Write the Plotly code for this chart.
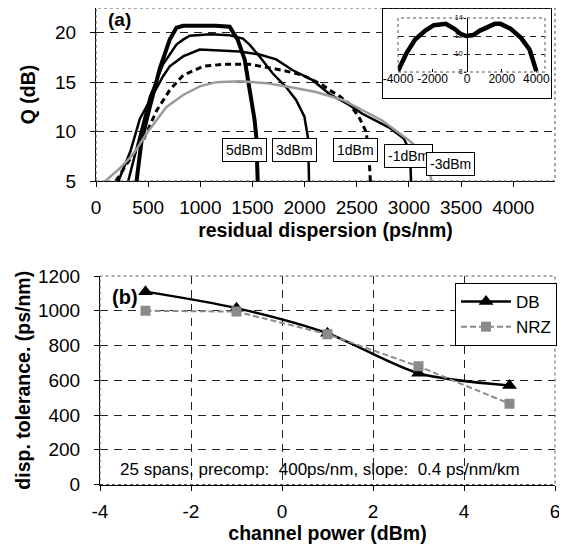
import plotly.graph_objects as go

# the page body has an 8px margin, so the figure is drawn 8px in from the corner
OFF = 8
W, H = 567 - OFF, 548 - OFF
FONT = "Liberation Sans, Arial, sans-serif"

# ---- (a) Q versus residual dispersion, one curve per channel power ----
disp_5dbm = [389, 437, 516, 612, 707, 771, 835, 1000, 1150, 1281, 1358, 1425,
             1472, 1520, 1536, 1546, 1550]
q_5dbm = [5, 9.1, 12.5, 16.4, 19.3, 20.5, 20.7, 20.75, 20.7, 20.6, 19.3, 17.3,
          14.55, 11.2, 9.5, 6.4, 5]

disp_3dbm = [309, 370, 421, 516, 643, 707, 771, 835, 899, 1100, 1281, 1408,
             1472, 1568, 1693, 1822, 1918, 1998, 2030, 2040, 2042]
q_3dbm = [5, 7.5, 9.8, 13.5, 16.8, 17.8, 18.8, 19.3, 19.7, 19.85, 19.75, 19.4,
          18.8, 17.6, 15.9, 14.5, 13.2, 11.5, 9.5, 6.1, 5]

disp_1dbm = [190, 300, 452, 580, 707, 835, 1026, 1217, 1472, 1790, 1982, 2173,
             2237, 2333, 2428, 2520, 2588, 2615, 2630]
q_1dbm = [5, 6.8, 9.1, 12.1, 14.2, 15.7, 16.6, 16.8, 16.8, 16.2, 15.7, 14.7,
          14.2, 13.6, 12.8, 11.5, 10.0, 8.0, 5]

disp_m1dbm = [215, 330, 421, 547, 643, 707, 835, 994, 1377, 1568, 1727, 1886,
              2077, 2237, 2428, 2553, 2811, 2950, 3010, 3020]
q_m1dbm = [5, 8.0, 11.3, 13.7, 15.6, 16.6, 17.6, 18.3, 18.1, 17.8, 17.3, 16.2,
           15.2, 13.8, 12.7, 11.8, 10.4, 9.3, 8.0, 5]

disp_m3dbm = [90, 230, 357, 485, 676, 835, 1000, 1154, 1377, 1632, 1855, 2110,
              2365, 2492, 2747, 3002, 3120, 3190, 3215]
q_m3dbm = [5, 6.3, 7.7, 9.8, 12.5, 13.7, 14.6, 15.0, 15.1, 14.9, 14.5, 14.0,
           13.2, 12.5, 11.1, 9.1, 8.0, 6.6, 5]

power_labels = ["5dBm", "3dBm", "1dBm", "-1dBm", "-3dBm"]
label_disp = [1424, 1898, 2486, 2997, 3394]
label_q = [8.16, 8.16, 8.16, 7.55, 6.7]

# inset: Q (dB) over the full dispersion span
inset_disp = [-4000, -3506, -3012, -2420, -1926, -1500, -1235, -741, -346, -49,
              346, 741, 1333, 1600, 1926, 2519, 3111, 3605, 4000]
inset_q = [8.1, 10.1, 11.6, 12.6, 13.2, 13.35, 13.35, 12.8, 12.2, 12.0,
           12.1, 12.6, 13.2, 13.35, 13.35, 12.8, 11.8, 10.5, 8.1]

# ---- (b) dispersion tolerance versus channel power ----
power = [-3, -1, 1, 3, 5]
tol_db = [1110, 1015, 870, 640, 570]
tol_nrz = [1000, 995, 865, 680, 465]

power_ticks = [-4, -2, 0, 2, 4, 6]


def px_x(p):
    return (p - OFF) / W


def px_y(p):
    return 1 - (p - OFF) / H


fig = go.Figure()

styles = [
    ("black", 4, "solid"),
    ("black", 2.5, "solid"),
    ("black", 3, "6px,4px"),
    ("black", 2.5, "solid"),
    ("#9a9a9a", 2.5, "solid"),
]
curves = [(disp_5dbm, q_5dbm), (disp_3dbm, q_3dbm), (disp_1dbm, q_1dbm),
          (disp_m1dbm, q_m1dbm), (disp_m3dbm, q_m3dbm)]
for (xs, ys), (color, width, dash), name in zip(curves, styles, power_labels):
    fig.add_trace(go.Scatter(
        x=xs, y=ys, mode="lines", name=name, showlegend=False,
        line=dict(color=color, width=width, dash=dash),
        xaxis="x", yaxis="y",
    ))

# bottom panel
fig.add_trace(go.Scatter(
    x=power, y=tol_db, name="DB", mode="lines+markers",
    line=dict(color="black", width=2.5, shape="spline", smoothing=0.8),
    marker=dict(symbol="triangle-up", size=13, color="black"),
    xaxis="x2", yaxis="y2",
))
fig.add_trace(go.Scatter(
    x=power, y=tol_nrz, name="NRZ", mode="lines+markers",
    line=dict(color="#8a8a8a", width=2, dash="6px,3px"),
    marker=dict(symbol="square", size=10, color="#8a8a8a"),
    xaxis="x2", yaxis="y2",
))

# inset box (white background) and inset plot
fig.add_trace(go.Scatter(x=[], y=[], showlegend=False, hoverinfo="skip",
                         xaxis="x3", yaxis="y3"))
fig.add_trace(go.Scatter(
    x=inset_disp, y=inset_q, mode="lines", showlegend=False,
    line=dict(color="black", width=4.5), xaxis="x4", yaxis="y4",
))

tick_font = dict(family=FONT, size=19, color="black")
title_font = dict(family=FONT, size=19.5, color="black", weight="bold")
grid = dict(showgrid=True, gridcolor="#222", gridwidth=1, griddash="8px,6px")
axis_line = dict(showline=True, linecolor="black", linewidth=1, ticks="outside",
                 ticklen=5, tickcolor="black", zeroline=False, automargin=False,
                 tickfont=tick_font)

fig.update_layout(
    template="none",
    width=W, height=H,
    margin=dict(l=0, r=0, t=0, b=0, pad=0),
    paper_bgcolor="white", plot_bgcolor="white",
    font=dict(family=FONT, color="black"),
    xaxis=dict(domain=[px_x(96), px_x(555)], range=[0, 4400], tick0=0, dtick=500,
               anchor="y", showgrid=False, ticklabelstandoff=4,
               title=dict(text="residual dispersion (ps/nm)", font=title_font, standoff=6),
               **axis_line),
    yaxis=dict(domain=[px_y(181), px_y(8)], range=[5, 22.5], tick0=5, dtick=5,
               anchor="x", ticklabelstandoff=10,
               title=dict(text="Q (dB)", font=title_font, standoff=14),
               **grid, **axis_line),
    xaxis2=dict(domain=[px_x(100), px_x(555)], range=[-4, 6],
                tickvals=power_ticks, ticktext=[str(v) for v in power_ticks],
                anchor="y2", ticklabelstandoff=5, ticklabeloverflow="allow",
                title=dict(text="channel power (dBm)", font=title_font, standoff=0),
                **grid, **axis_line),
    yaxis2=dict(domain=[px_y(484.5), px_y(276)], range=[0, 1200], tick0=0, dtick=200,
                anchor="x2", ticklabelstandoff=10,
                title=dict(text="disp. tolerance. (ps/nm)", font=title_font, standoff=2),
                **grid, **axis_line),
    xaxis3=dict(domain=[px_x(383), px_x(551)], range=[0, 1], anchor="y3",
                showline=True, mirror=True, linecolor="black", linewidth=1,
                showgrid=False, zeroline=False, showticklabels=False, ticks="",
                automargin=False),
    yaxis3=dict(domain=[px_y(98), px_y(9)], range=[0, 1], anchor="x3",
                showline=True, mirror=True, linecolor="black", linewidth=1,
                showgrid=False, zeroline=False, showticklabels=False, ticks="",
                automargin=False),
    xaxis4=dict(domain=[px_x(398), px_x(545)], range=[-4000, 4500], anchor="y4",
                tickvals=[-4000, -2000, 0, 2000, 4000],
                ticktext=["-4000", "-2000", "0", "2000", "4000"],
                tickfont=dict(family=FONT, size=12, color="black"),
                ticks="inside", ticklen=3, tickcolor="black", ticklabelstandoff=-2,
                showgrid=False, showline=False, automargin=False,
                zeroline=True, zerolinecolor="black", zerolinewidth=1),
    yaxis4=dict(domain=[px_y(72), px_y(18)], range=[8, 14], anchor="free",
                position=px_x(466), tickvals=[8, 10, 12, 14],
                tickfont=dict(family=FONT, size=7, color="black"),
                ticks="outside", ticklen=2, tickcolor="black",
                showgrid=True, gridcolor="#222", gridwidth=1, griddash="6px,5px",
                zeroline=False, showline=False, automargin=False),
    legend=dict(x=px_x(557), y=px_y(283), xanchor="right", yanchor="top",
                bgcolor="white", bordercolor="black", borderwidth=1,
                font=dict(family=FONT, size=17, color="black"),
                tracegroupgap=0, itemwidth=50),
    showlegend=True,
)

# dotted plot-area frames
for xr, yr in [("x domain", "y domain"), ("x2 domain", "y2 domain"),
               ("x4 domain", "y4 domain")]:
    fig.add_shape(type="rect", xref=xr, yref=yr, x0=0, x1=1, y0=0, y1=1,
                  line=dict(color="#555", width=1, dash="dot"), layer="above")

# power labels on the curves
for text, x, y in zip(power_labels, label_disp, label_q):
    fig.add_annotation(x=x, y=y, xref="x", yref="y", text=text, showarrow=False,
                       font=dict(family=FONT, size=14, color="black"),
                       bgcolor="white", bordercolor="black", borderwidth=1, borderpad=3)

fig.add_annotation(x=229, y=21.3, xref="x", yref="y", text="<b>(a)</b>",
                   showarrow=False, font=dict(family=FONT, size=19, color="black"))
fig.add_annotation(x=-3.44, y=1079, xref="x2", yref="y2", text="<b>(b)</b>",
                   showarrow=False, font=dict(family=FONT, size=20, color="black"))
fig.add_annotation(x=0.84, y=89, xref="x2", yref="y2",
                   text="25 spans, precomp:\u00a0 400ps/nm, slope:\u00a0 0.4 ps/nm/km",
                   showarrow=False, font=dict(family=FONT, size=17, color="black"))

fig.write_html("out.html")
